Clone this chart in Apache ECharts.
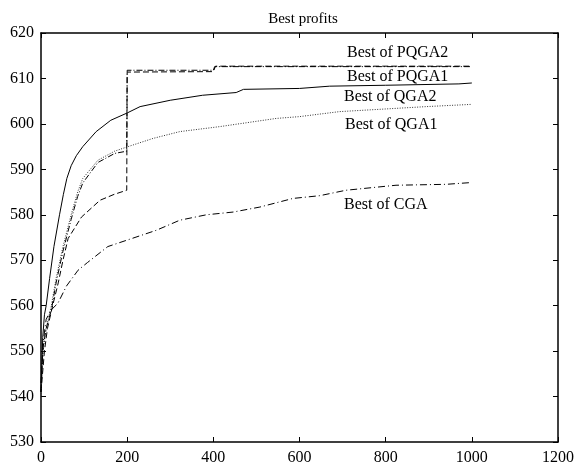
<!DOCTYPE html>
<html>
<head>
<meta charset="utf-8">
<script src="https://cdn.jsdelivr.net/npm/echarts@6/dist/echarts.min.js"></script>
<style>
  html, body { margin: 0; padding: 0; background: #fff; }
  #main { width: 577px; height: 470px; }
</style>
</head>
<body>
<div id="main"></div>
<script>
// generations and best profit values
const pqga2X = [0, 8, 15, 27, 40, 51, 63, 94, 137, 170, 199, 200, 400, 405, 1000];
const pqga2Y = [541, 550, 555, 560, 565, 570, 574.8, 579.5, 583.2, 584.5, 585.4, 611.4, 611.5, 612.7, 612.7];

const pqga1X = [0, 4, 8, 12, 20, 30, 43, 52, 60, 70, 82, 97, 128, 162, 200, 230, 300, 375, 453, 470, 600, 670, 800, 970, 1000];
const pqga1Y = [541, 553, 558, 560, 566, 573, 580, 584.5, 588, 590.8, 593, 595, 598.3, 600.8, 602.4, 603.8, 605.2, 606.3, 606.9, 607.6, 607.8, 608.3, 608.5, 608.8, 609];

const qga2X = [0, 5, 12, 24, 35, 51, 70, 85, 97, 132, 171, 202, 260, 322, 415, 546, 600, 693, 894, 1000];
const qga2Y = [540, 550, 555, 560, 566, 573, 580, 585, 588, 592, 594, 595, 596.8, 598.3, 599.4, 601.2, 601.6, 602.7, 603.8, 604.3];

const qga1X = [0, 5, 12, 24, 35, 51, 70, 85, 97, 132, 171, 199, 200, 400, 403, 1000];
const qga1Y = [543, 551, 555, 559, 565, 572, 579, 584, 587, 591.5, 593.5, 594, 611.8, 611.8, 612.6, 612.6];

const cgaX = [0, 5, 12, 23, 39, 59, 86, 108, 155, 199, 268, 322, 384, 446, 508, 585, 647, 708, 824, 940, 1000];
const cgaY = [541, 552, 557, 559, 560.5, 564.3, 567.8, 569.5, 573, 574.4, 576.6, 578.8, 580, 580.6, 581.7, 583.6, 584.2, 585.4, 586.5, 586.7, 587.1];

const seriesNames = ['Best of PQGA2', 'Best of PQGA1', 'Best of QGA2', 'Best of QGA1', 'Best of CGA'];

function zip(xs, ys) {
    return xs.map(function (x, i) { return [x, ys[i]]; });
}

const chart = echarts.init(document.getElementById('main'));

const serif = 'Liberation Serif';
const labelFont = '16px "Liberation Serif"';
const axisCommon = {
    axisLine: { show: true, onZero: false, lineStyle: { color: '#000', width: 1.5 } },
    axisTick: { show: true, inside: true, length: 5, lineStyle: { color: '#000' } },
    splitLine: { show: false }
};

function line(name, data, type, color) {
    return {
        name: name,
        type: 'line',
        data: data,
        symbol: 'none',
        animation: false,
        lineStyle: { color: color || '#000', width: 1, type: type }
    };
}

const option = {
    backgroundColor: '#fff',
    title: {
        text: 'Best profits',
        left: 298,
        top: 7,
        textAlign: 'center',
        textStyle: { fontFamily: serif, fontSize: 15, fontWeight: 'normal', color: '#000' }
    },
    grid: { left: 41, right: 16, top: 33, bottom: 28 },
    xAxis: [
        Object.assign({
            type: 'value', min: 0, max: 1200, interval: 200, position: 'bottom',
            axisLabel: {
                fontFamily: serif, fontSize: 16, color: '#000', margin: 8,
                formatter: function (v) { return String(v); }
            }
        }, axisCommon),
        Object.assign({
            type: 'value', min: 0, max: 1200, interval: 200, position: 'top',
            axisLabel: { show: false }
        }, axisCommon)
    ],
    yAxis: [
        Object.assign({
            type: 'value', min: 530, max: 620, interval: 10, position: 'left',
            axisLabel: { fontFamily: serif, fontSize: 16, color: '#000', margin: 7 }
        }, axisCommon),
        Object.assign({
            type: 'value', min: 530, max: 620, interval: 10, position: 'right',
            axisLabel: { show: false }
        }, axisCommon)
    ],
    series: [
        line(seriesNames[0], zip(pqga2X, pqga2Y), [6, 3]),
        line(seriesNames[1], zip(pqga1X, pqga1Y), 'solid'),
        line(seriesNames[2], zip(qga2X, qga2Y), [1, 1.5], '#333'),
        line(seriesNames[3], zip(qga1X, qga1Y), [6, 2, 1, 2]),
        line(seriesNames[4], zip(cgaX, cgaY), [7, 3, 1, 3])
    ],
    graphic: [
        { type: 'text', left: 347, top: 45, style: { text: seriesNames[0], font: labelFont, fill: '#000' } },
        { type: 'text', left: 347, top: 69, style: { text: seriesNames[1], font: labelFont, fill: '#000' } },
        { type: 'text', left: 344, top: 89, style: { text: seriesNames[2], font: labelFont, fill: '#000' } },
        { type: 'text', left: 345, top: 117, style: { text: seriesNames[3], font: labelFont, fill: '#000' } },
        { type: 'text', left: 344, top: 197, style: { text: seriesNames[4], font: labelFont, fill: '#000' } }
    ]
};

chart.setOption(option);
</script>
</body>
</html>
